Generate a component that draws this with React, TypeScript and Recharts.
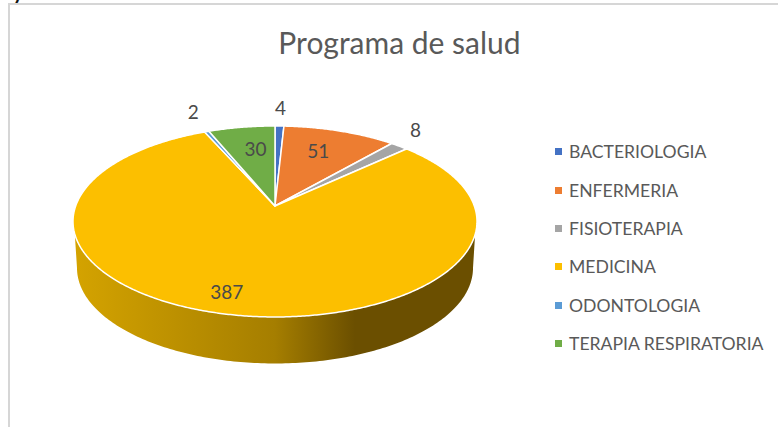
import { PieChart, Pie, Legend } from "recharts";

const programas = [
  "BACTERIOLOGIA",
  "ENFERMERIA",
  "FISIOTERAPIA",
  "MEDICINA",
  "ODONTOLOGIA",
  "TERAPIA RESPIRATORIA",
];
const valores = [4, 51, 8, 387, 2, 30];
const colores = ["#4472C4", "#ED7D31", "#A5A5A5", "#FCBF00", "#5B9BD5", "#70AD47"];

// where each data label sits, relative to its slice
const labelReach = [1.27, 0.7, 1.15, 0.85, 1.27, 0.7];
const labelNudge = [
  [0, -1],
  [-4, -1],
  [0, -9],
  [-9, -4],
  [2, -3],
  [5, 0],
];

const data = programas.map((name, i) => ({ name, value: valores[i], fill: colores[i] }));

const FONT = "Lato, sans-serif";
const TILT = 95.5 / 202; // squash of the pie top
const SHIFT = 0.162; // apex sits above the ellipse centre (perspective)
const WALL_DROP = 46.5;
const WALL_SHRINK = 198 / 202;

// circle -> tilted ellipse, keeping the perspective look of the 3D pie
function project(theta: number, r: number, cx: number, cy: number, R: number) {
  const rad = (theta * Math.PI) / 180;
  const u = r * Math.sin(rad);
  const v = r * Math.cos(rad);
  const w = 1 + SHIFT * v;
  const s = Math.sqrt(1 - SHIFT * SHIFT);
  const ry = R * TILT;
  return {
    x: cx + (R * u * s) / w,
    y: cy + ry * SHIFT - (ry * (v + SHIFT)) / w,
  };
}

function Slice3D(props: any) {
  const { cx, cy, outerRadius: R, startAngle, endAngle, fill } = props;
  const from = 90 - startAngle;
  const to = 90 - endAngle;
  const ry = R * TILT;
  const midY = cy + ry * SHIFT;

  const arc: { x: number; y: number }[] = [];
  const steps = Math.max(2, Math.ceil((to - from) * 2));
  for (let i = 0; i <= steps; i++) {
    arc.push(project(from + ((to - from) * i) / steps, 1, cx, cy, R));
  }
  const top =
    `M${cx},${cy} ` + arc.map((p) => `L${p.x.toFixed(2)},${p.y.toFixed(2)}`).join(" ") + " Z";

  // side wall, only the front part of the slice shows
  const front = arc.filter((p) => p.y > midY + ry * 0.13);
  let wall = "";
  if (front.length > 20) {
    const bottom: string[] = [];
    for (let a = 180; a <= 360; a += 1) {
      const rad = (a * Math.PI) / 180;
      const bx = cx + R * WALL_SHRINK * Math.cos(rad);
      const by = midY + WALL_DROP - ry * Math.sin(rad);
      bottom.push(`L${bx.toFixed(2)},${by.toFixed(2)}`);
    }
    wall =
      `M${front[0].x.toFixed(2)},${front[0].y.toFixed(2)} ` +
      front.map((p) => `L${p.x.toFixed(2)},${p.y.toFixed(2)}`).join(" ") +
      " " +
      bottom.join(" ") +
      " Z";
  }

  return (
    <g>
      <defs>
        <linearGradient id="wallFill" x1="0" y1="0" x2="1" y2="0">
          <stop offset="0%" stopColor="#d4a300" />
          <stop offset="50%" stopColor="#a57e00" />
          <stop offset="70%" stopColor="#6b4f00" />
          <stop offset="100%" stopColor="#6b4f00" />
        </linearGradient>
      </defs>
      {wall && <path d={wall} fill="url(#wallFill)" />}
      <path d={top} fill={fill} stroke="#fff" strokeWidth={1.5} strokeLinejoin="round" />
    </g>
  );
}

function SliceLabel(props: any) {
  const { cx, cy, outerRadius, midAngle, value, index } = props;
  const p = project(90 - midAngle, labelReach[index], cx, cy, outerRadius);
  const [dx, dy] = labelNudge[index];
  return (
    <text
      x={p.x + dx}
      y={p.y + dy}
      textAnchor="middle"
      dominantBaseline="central"
      fontFamily={FONT}
      fontSize={19}
      fill="#4a4a4a"
    >
      {value}
    </text>
  );
}

function LegendList({ payload }: any) {
  return (
    <div style={{ fontFamily: FONT, fontSize: 17.6, color: "#595959" }}>
      {(payload ?? []).map((item: any) => (
        <div key={item.value} style={{ height: 38.4, display: "flex", alignItems: "center" }}>
          <span style={{ width: 7, height: 7, background: item.color, marginRight: 7 }} />
          <span style={{ whiteSpace: "nowrap" }}>{item.value}</span>
        </div>
      ))}
    </div>
  );
}

export default function App() {
  return (
    <div
      style={{
        position: "absolute",
        left: 0,
        top: 0,
        width: 778,
        height: 427,
        overflow: "hidden",
        background: "#fff",
      }}
    >
      <div
        style={{
          position: "absolute",
          left: 13,
          top: -19,
          fontFamily: FONT,
          fontSize: 20,
          fontWeight: 700,
          lineHeight: "20px",
          color: "#111",
        }}
      >
        y
      </div>
      <div
        style={{
          position: "absolute",
          left: 8,
          top: 3,
          width: 800,
          height: 450,
          borderLeft: "2px solid #d6d6d6",
          borderTop: "2px solid #d6d6d6",
        }}
      />
      <div
        style={{
          position: "absolute",
          left: 0,
          top: 22,
          width: 799,
          textAlign: "center",
          fontFamily: FONT,
          fontSize: 30,
          lineHeight: "40px",
          color: "#595959",
        }}
      >
        Programa de salud
      </div>
      <PieChart
        width={778}
        height={427}
        margin={{ top: 0, right: 0, bottom: 0, left: 0 }}
        style={{ position: "absolute", left: 0, top: 0 }}
      >
        <Pie
          data={data}
          dataKey="value"
          nameKey="name"
          cx={275}
          cy={206}
          outerRadius={202}
          startAngle={90}
          endAngle={-270}
          shape={Slice3D}
          label={SliceLabel}
          labelLine={false}
          isAnimationActive={false}
        />
        <Legend
          layout="vertical"
          content={LegendList}
          wrapperStyle={{ left: 555, top: 132.6, width: 220 }}
        />
      </PieChart>
    </div>
  );
}
